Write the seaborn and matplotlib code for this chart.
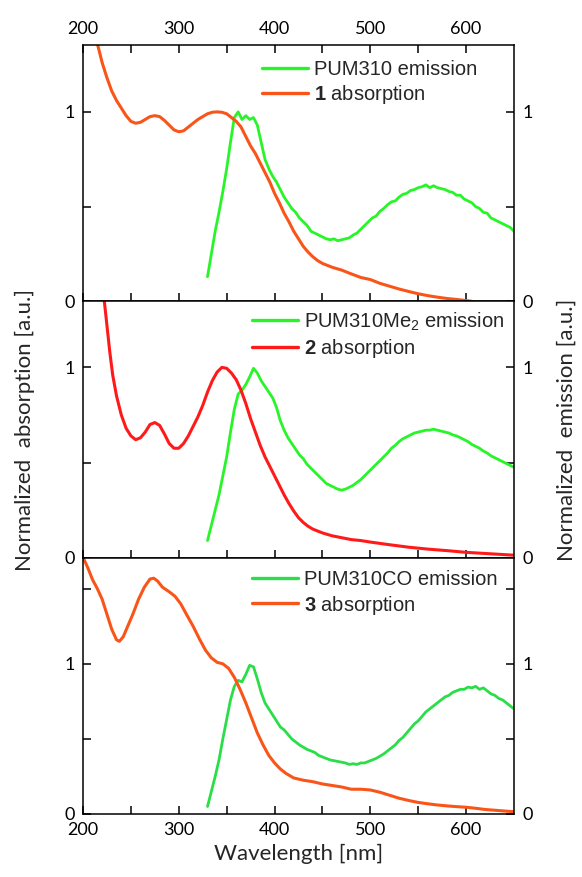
import numpy as np
import pandas as pd
import matplotlib
matplotlib.use("Agg")
import matplotlib.pyplot as plt
import seaborn as sns

# ---------------- data ----------------
em_x = list(range(330, 651, 4))

em1 = [0.13, 0.25, 0.37, 0.47, 0.58, 0.70, 0.84, 0.97, 1.00, 0.96, 0.98, 0.96, 0.97, 0.93, 0.84,
       0.75, 0.70, 0.66, 0.63, 0.59, 0.55, 0.52, 0.49, 0.47, 0.44, 0.42, 0.40, 0.37, 0.36, 0.35,
       0.34, 0.33, 0.325, 0.33, 0.32, 0.325, 0.33, 0.335, 0.35, 0.36, 0.38, 0.40, 0.42, 0.44, 0.45,
       0.475, 0.49, 0.51, 0.525, 0.53, 0.55, 0.565, 0.57, 0.585, 0.59, 0.60, 0.605, 0.615, 0.60, 0.61,
       0.60, 0.595, 0.59, 0.58, 0.575, 0.56, 0.56, 0.54, 0.53, 0.52, 0.50, 0.49, 0.47, 0.465, 0.44,
       0.43, 0.42, 0.41, 0.40, 0.39, 0.37]

em2 = [0.09, 0.17, 0.25, 0.33, 0.43, 0.53, 0.66, 0.78, 0.86, 0.88, 0.91, 0.95, 0.995, 0.97, 0.93,
       0.90, 0.87, 0.84, 0.79, 0.72, 0.67, 0.63, 0.60, 0.57, 0.54, 0.52, 0.49, 0.47, 0.45, 0.43,
       0.41, 0.39, 0.38, 0.37, 0.36, 0.355, 0.36, 0.37, 0.38, 0.395, 0.41, 0.43, 0.45, 0.47, 0.49,
       0.51, 0.53, 0.55, 0.575, 0.59, 0.61, 0.625, 0.635, 0.645, 0.655, 0.66, 0.665, 0.67, 0.67, 0.675,
       0.67, 0.665, 0.66, 0.655, 0.645, 0.64, 0.63, 0.62, 0.61, 0.595, 0.585, 0.575, 0.56, 0.55, 0.535,
       0.525, 0.515, 0.505, 0.495, 0.485, 0.475]

em3 = [0.05, 0.15, 0.25, 0.36, 0.50, 0.63, 0.76, 0.85, 0.89, 0.88, 0.93, 0.99, 0.98, 0.90, 0.81,
       0.74, 0.70, 0.66, 0.62, 0.58, 0.56, 0.53, 0.50, 0.48, 0.46, 0.445, 0.43, 0.42, 0.41, 0.39,
       0.38, 0.37, 0.36, 0.355, 0.35, 0.345, 0.34, 0.33, 0.335, 0.33, 0.34, 0.34, 0.35, 0.36, 0.37,
       0.385, 0.40, 0.42, 0.44, 0.46, 0.49, 0.51, 0.54, 0.57, 0.60, 0.62, 0.65, 0.68, 0.70, 0.72,
       0.74, 0.76, 0.78, 0.79, 0.81, 0.82, 0.83, 0.83, 0.845, 0.84, 0.85, 0.83, 0.84, 0.82, 0.80,
       0.79, 0.77, 0.76, 0.74, 0.72, 0.70]

ab1_x = [215, 220, 225, 230, 235, 240, 245, 250, 255, 260, 265, 270, 275, 280, 285, 290, 295, 300,
         305, 310, 315, 320, 325, 330, 335, 340, 345, 350, 355, 360, 365, 370, 375, 380, 385, 390,
         395, 400, 405, 410, 415, 420, 425, 430, 435, 440, 445, 450, 455, 460, 470, 480, 490, 500,
         510, 520, 530, 540, 550, 560, 570, 580, 590, 600, 606]
ab1 = [1.36, 1.26, 1.18, 1.11, 1.06, 1.02, 0.98, 0.95, 0.94, 0.945, 0.96, 0.975, 0.98, 0.975, 0.955,
       0.93, 0.905, 0.895, 0.90, 0.92, 0.94, 0.96, 0.975, 0.99, 0.998, 1.0, 0.998, 0.99, 0.97, 0.95,
       0.92, 0.87, 0.82, 0.78, 0.73, 0.68, 0.63, 0.57, 0.52, 0.465, 0.42, 0.37, 0.33, 0.29, 0.26,
       0.235, 0.215, 0.20, 0.19, 0.18, 0.165, 0.145, 0.126, 0.115, 0.095, 0.08, 0.065, 0.052, 0.04,
       0.03, 0.022, 0.015, 0.01, 0.004, 0.0]

ab2_x = [222, 225, 228, 231, 235, 240, 245, 250, 255, 260, 265, 270, 275, 280, 285, 290, 295, 300,
         305, 310, 315, 320, 325, 330, 335, 340, 345, 350, 355, 360, 365, 370, 375, 380, 385, 390,
         395, 400, 405, 410, 415, 420, 425, 430, 435, 440, 450, 460, 470, 480, 490, 500, 520, 540,
         560, 580, 600, 620, 640, 650]
ab2 = [1.36, 1.22, 1.08, 0.96, 0.85, 0.75, 0.68, 0.64, 0.62, 0.63, 0.66, 0.70, 0.71, 0.695, 0.65,
       0.60, 0.575, 0.575, 0.60, 0.64, 0.69, 0.74, 0.80, 0.87, 0.93, 0.975, 1.0, 0.995, 0.97, 0.935,
       0.88, 0.81, 0.73, 0.66, 0.59, 0.53, 0.48, 0.43, 0.38, 0.33, 0.285, 0.245, 0.21, 0.185, 0.165,
       0.15, 0.13, 0.115, 0.105, 0.095, 0.09, 0.082, 0.068, 0.055, 0.045, 0.037, 0.028, 0.022, 0.016,
       0.013]

ab3_x = [200, 205, 210, 215, 220, 225, 230, 235, 238, 242, 246, 252, 258, 264, 270, 274, 278, 283,
         290, 296, 302, 308, 315, 322, 328, 334, 340, 346, 352, 358, 364, 370, 376, 382, 388, 394,
         400, 406, 412, 420, 430, 440, 450, 460, 470, 480, 490, 500, 510, 520, 530, 540, 550, 560,
         570, 580, 590, 600, 610, 620, 630, 640, 650]
ab3 = [1.71, 1.64, 1.56, 1.50, 1.43, 1.33, 1.23, 1.16, 1.15, 1.18, 1.24, 1.33, 1.43, 1.51, 1.565,
       1.57, 1.55, 1.51, 1.48, 1.45, 1.40, 1.33, 1.25, 1.16, 1.09, 1.04, 1.01, 1.0, 0.97, 0.91,
       0.83, 0.74, 0.64, 0.54, 0.46, 0.39, 0.34, 0.30, 0.27, 0.24, 0.225, 0.215, 0.20, 0.19, 0.18,
       0.165, 0.165, 0.16, 0.145, 0.125, 0.105, 0.09, 0.077, 0.068, 0.06, 0.054, 0.049, 0.045, 0.038,
       0.03, 0.025, 0.02, 0.015]

em_labels = ["PUM310 emission", r"PUM310Me$_2$ emission", "PUM310CO emission"]
ab_labels = [r"$\mathbf{1}$ absorption", r"$\mathbf{2}$ absorption", r"$\mathbf{3}$ absorption"]
x_ticks = [200, 250, 300, 350, 400, 450, 500, 550, 600]
x_tick_labels = ["200", "", "300", "", "400", "", "500", "", "600"]

# ---------------- style ----------------
sns.set_theme(style="ticks")
plt.rcParams['font.family'] = ['Lato', 'DejaVu Sans']
plt.rcParams['mathtext.fontset'] = 'custom'
plt.rcParams['mathtext.rm'] = 'Liberation Sans'
plt.rcParams['mathtext.bf'] = 'Liberation Sans:bold'
plt.rcParams['mathtext.it'] = 'Liberation Sans:italic'

em_colors = ["#28f528", "#28f528", "#2ade48"]
ab_colors = ["#fa5519", "#ff1a1a", "#fa5519"]
ylims = [1.353, 1.347, 1.707]
yticks = [[0, 0.5, 1], [0, 0.5, 1], [0, 0.5, 1, 1.5]]
legend_anchor = [(0.415, 0.94), (0.392, 0.965), (0.392, 0.95)]

fig = plt.figure(figsize=(5.82, 8.77), dpi=100)
L, R = 83 / 582, 514 / 582
T, B = 1 - 45 / 877, 1 - 814 / 877
gs = fig.add_gridspec(3, 1, left=L, right=R, top=T, bottom=B, hspace=0)
axes = [fig.add_subplot(gs[i]) for i in range(3)]

em_series = [em1, em2, em3]
ab_series = [(ab1_x, ab1), (ab2_x, ab2), (ab3_x, ab3)]

for i, ax in enumerate(axes):
    sns.lineplot(x=em_x, y=em_series[i], ax=ax, color=em_colors[i], lw=2.0,
                 label=em_labels[i], sort=False, estimator=None)
    sns.lineplot(x=ab_series[i][0], y=ab_series[i][1], ax=ax, color=ab_colors[i], lw=2.2,
                 label=ab_labels[i], sort=False, estimator=None)
    ax.set_xlim(200, 650)
    ax.set_ylim(0, ylims[i])
    ax.set_xticks(x_ticks)
    ax.set_yticks(yticks[i])
    ax.set_yticklabels(["0" if v == 0 else ("1" if v == 1 else "") for v in yticks[i]])
    for s in ax.spines.values():
        s.set_linewidth(1.1)
        s.set_color("black")
        s.set_visible(True)
    ax.tick_params(axis='both', direction='in', length=6, width=1.1, colors='black',
                   labelsize=13, pad=6)
    ax.tick_params(axis='y', left=True, right=True, labelleft=True, labelright=True)
    if i == 0:
        ax.tick_params(axis='x', top=True, bottom=True, labeltop=True, labelbottom=False)
        ax.set_xticklabels(x_tick_labels)
    elif i == 2:
        ax.tick_params(axis='x', top=False, bottom=True, labeltop=False, labelbottom=True)
        ax.set_xticklabels(x_tick_labels)
    else:
        ax.tick_params(axis='x', top=False, bottom=True, labeltop=False, labelbottom=False)
    ax.set_xlabel("")
    ax.set_ylabel("")
    leg = ax.legend(loc="upper left", bbox_to_anchor=legend_anchor[i], frameon=False,
                    handlelength=2.3, handletextpad=0.3, labelspacing=0.2,
                    borderpad=0, borderaxespad=0, prop={'family': 'Liberation Sans', 'size': 14.5})
    for h in leg.get_lines():
        h.set_linewidth(2.4)

axes[2].set_xlabel("Wavelength [nm]", fontsize=16, labelpad=4)
fig.text(25 / 582, 1 - 430 / 877, "Normalized  absorption [a.u.]", rotation=90,
         ha="center", va="center", fontsize=16)
fig.text(567 / 582, 1 - 430 / 877, "Normalized  emission [a.u.]", rotation=90,
         ha="center", va="center", fontsize=16)

fig.savefig("out.png", dpi=100)
